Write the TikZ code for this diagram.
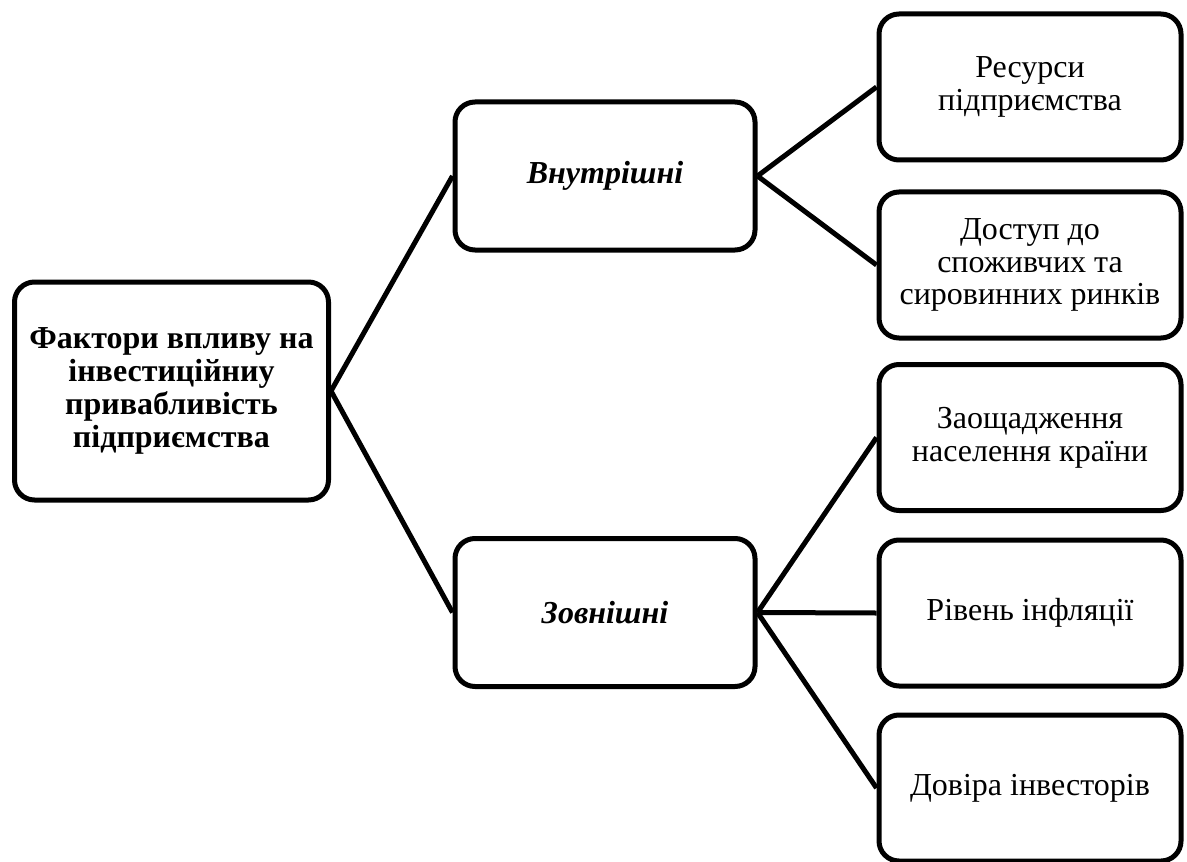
\documentclass[tikz,border=0pt]{standalone}
\usepackage{fontspec}
\setmainfont{Liberation Serif}
\usetikzlibrary{positioning}

\begin{document}
\begin{tikzpicture}[x=1pt,y=1pt,
    box/.style={draw, line width=2.5pt, rounded corners=10pt, align=center, inner sep=2pt,
                font=\fontsize{16}{16.4}\selectfont},
    root/.style={box, minimum width=157pt, minimum height=109pt, font=\fontsize{16}{16.4}\selectfont\bfseries},
    mid/.style={box, minimum width=150pt, minimum height=74pt, font=\fontsize{16}{16.4}\selectfont\bfseries\itshape},
    leaf/.style={box, minimum width=151pt, minimum height=73pt},
    link/.style={line width=2.5pt}]
    \useasboundingbox (0,0) rectangle (593.5,-430.5);
    % root and the two groups
    \node[root] (f) at (85.75,-195.5) {Фактори впливу на\\інвестиційниу\\привабливість\\підприємства};
    \node[mid] (in) at (302.5,-88) {Внутрішні};
    \node[mid] (out) at (302.5,-306.25) {Зовнішні};
    % factors
    \node[leaf] (res) at (515,-43.5) {Ресурси\\підприємства};
    \node[leaf] (acc) at (515,-132.5) {Доступ до\\споживчих та\\сировинних ринків};
    \node[leaf] (sav) at (515,-218.75) {Заощадження\\населення країни};
    \node[leaf] (inf) at (515,-306.5) {Рівень інфляції};
    \node[leaf] (tru) at (515,-394) {Довіра інвесторів};
    % links
    \draw[link] (f.east) -- (in.west);
    \draw[link] (f.east) -- (out.west);
    \foreach \t in {res,acc}
        \draw[link] (in.east) -- (\t.west);
    \foreach \t in {sav,inf,tru}
        \draw[link] (out.east) -- (\t.west);
\end{tikzpicture}
\end{document}
